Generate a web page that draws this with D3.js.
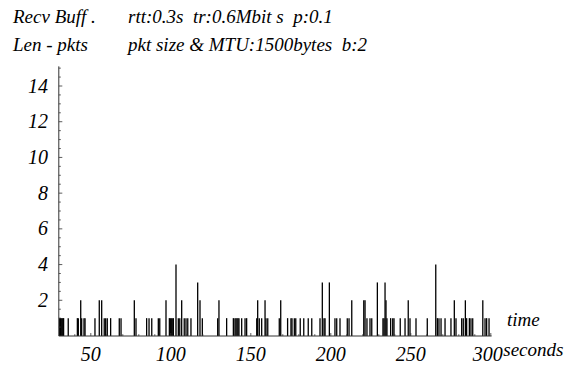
<!DOCTYPE html>
<html>
<head>
<meta charset="utf-8">
<script src="https://cdn.jsdelivr.net/npm/d3@7"></script>
<style>
  body { margin: 0; }
  svg text { font-family: "Liberation Serif", "Times New Roman", serif !important; font-style: italic !important; }
</style>
</head>
<body>
<svg id="chart" width="578" height="367" font-family="Liberation Serif, serif"></svg>
<script>
// Spike times (seconds) and receive buffer length (packets)
const spikeTimes = [
  30.5, 31, 31.5, 32, 32.5, 33, 35.9, 41.6, 42.2, 43.7, 44.3, 45.75, 46.4, 52.6,
  55.3, 56.8, 58.4, 59.3, 60.3, 62.4, 67.8, 68.9, 77.2, 78.25,
  84.9, 86.4, 88.1, 92.2, 93.1, 97, 99.1, 99.7, 100.3, 100.9, 101.6, 103.25,
  104.7, 105.6, 106.8, 108.4, 109.5, 110.6, 112.6, 116.8, 118.25, 119.7,
  129.3, 130.1, 134.9, 139.1,
  140.1, 140.75, 141.4, 142, 142.6, 144.3, 146.4, 147.4, 153.7, 154.3, 155.3,
  156.8, 158.9, 159.5, 160.6, 167.8, 168.7,
  173, 175.1, 175.75, 177.2, 178.1, 180.9, 183.1, 185.9, 188.1, 193.25, 194.7, 195.75,
  196.4, 199.1, 202.6, 203.7, 205.75, 210.3, 211.4, 213.1, 220.6, 221.4, 222.6,
  224.5, 225.6, 229.1, 232.6, 233.25, 233.9, 234.5, 235.1, 237.4, 238.7, 239.5,
  243.4, 246.4, 248.4, 249.5,
  253.25, 260.3, 265.6, 266.6, 267.6, 268.9, 271.4, 275.1, 277.2, 278.25,
  281.8, 282.8, 284.1, 284.9, 286.6, 287.6, 288.7, 295, 296.4, 297.4, 298.9
];
const bufferLen = [
  1, 1, 1, 1, 1, 1, 1, 1, 1, 2, 1, 1, 1, 1,
  2, 2, 1, 1, 1, 1, 1, 1, 2, 1,
  1, 1, 1, 1, 1, 2, 1, 1, 1, 1, 1, 4,
  1, 1, 2, 1, 1, 1, 1, 3, 2, 1,
  1, 2, 1, 1,
  1, 1, 1, 1, 1, 1, 1, 1, 1, 2, 1,
  1, 2, 1, 1, 1, 2,
  1, 1, 1, 1, 1, 1, 1, 1, 1, 1, 3, 1,
  1, 3, 1, 1, 1, 1, 1, 2, 2, 2, 1,
  1, 1, 3, 1, 1, 3, 2, 1, 1, 1, 1,
  1, 1, 2, 1,
  1, 1, 4, 1, 1, 1, 1, 1, 2, 1,
  1, 1, 2, 1, 1, 1, 1, 2, 1, 1, 1
];
const xTickLabels = [50, 100, 150, 200, 250, 300];
const yTickLabels = [2, 4, 6, 8, 10, 12, 14];
const titleLines = ["Recv Buff .", "Len - pkts"];
const infoLines = ["rtt:0.3s  tr:0.6Mbit s  p:0.1", "pkt size & MTU:1500bytes  b:2"];
const xAxisLabels = ["time", "seconds"];

const svg = d3.select("#chart");
const nb = s => String(s).replace(/ {2}/g, " \u00A0");
function styl(sel, size) {
  return sel.style("font-family", '"Liberation Serif", serif').style("font-style", "italic")
    .style("font-size", size + "px");
}
const x = d3.scaleLinear().domain([30, 300]).range([58.8, 490.8]);
const y = d3.scaleLinear().domain([0, 14]).range([336, 86]);
const x0 = x(30), y0 = y(0);

// spikes
svg.append("g").selectAll("line").data(spikeTimes).join("line")
  .attr("x1", d => x(d)).attr("x2", d => x(d))
  .attr("y1", y0).attr("y2", (d, i) => y(bufferLen[i]))
  .attr("stroke", "#000").attr("stroke-width", 1.3);

// axes lines
const axisColor = "#333";
svg.append("line").attr("x1", x0).attr("x2", x(300.5)).attr("y1", y0).attr("y2", y0)
  .attr("stroke", axisColor).attr("stroke-width", 1);
svg.append("line").attr("x1", x0).attr("x2", x0).attr("y1", y0).attr("y2", y(15.1))
  .attr("stroke", axisColor).attr("stroke-width", 1);

// x ticks (major every 50, minor every 10)
const xMinor = d3.range(40, 301, 10);
svg.append("g").selectAll("line").data(xMinor).join("line")
  .attr("x1", d => x(d)).attr("x2", d => x(d))
  .attr("y1", y0).attr("y2", d => y0 - (d % 50 === 0 ? 3 : 1.8))
  .attr("stroke", axisColor).attr("stroke-width", 0.8);

// y ticks (major every 2, minor every 0.5)
const yMinor = d3.range(0.5, 15.01, 0.5);
svg.append("g").selectAll("line").data(yMinor).join("line")
  .attr("x1", x0).attr("x2", d => x0 + (d % 2 === 0 ? 3.5 : 2))
  .attr("y1", d => y(d)).attr("y2", d => y(d))
  .attr("stroke", axisColor).attr("stroke-width", 0.8);

const xl = styl(svg.selectAll("text.xl").data(xTickLabels).join("text").attr("class", "xl"), 20)
  .attr("x", d => x(d) + (d === 300 ? -3 : 0)).attr("y", 361)
  .attr("text-anchor", "middle").text(d => d);
styl(svg.selectAll("text.yl").data(yTickLabels).join("text").attr("class", "yl"), 20)
  .attr("x", 48).attr("y", d => y(d) + 6.6)
  .attr("text-anchor", "end").text(d => d);
styl(svg.selectAll("text.tl").data(titleLines).join("text").attr("class", "tl"), 19)
  .attr("x", 13).attr("y", (d, i) => 23 + i * 28).text(d => nb(d));
styl(svg.selectAll("text.il").data(infoLines).join("text").attr("class", "il"), 19)
  .attr("x", 128).attr("y", (d, i) => 23 + i * 28).text(d => nb(d));
styl(svg.append("text"), 19).attr("x", 507).attr("y", 326).text(xAxisLabels[0]);
const last = xl.filter(d => d === 300).node().getBBox();
styl(svg.append("text"), 19).attr("x", last.x + last.width + 0.5).attr("y", 356).text(xAxisLabels[1]);
</script>
</body>
</html>
